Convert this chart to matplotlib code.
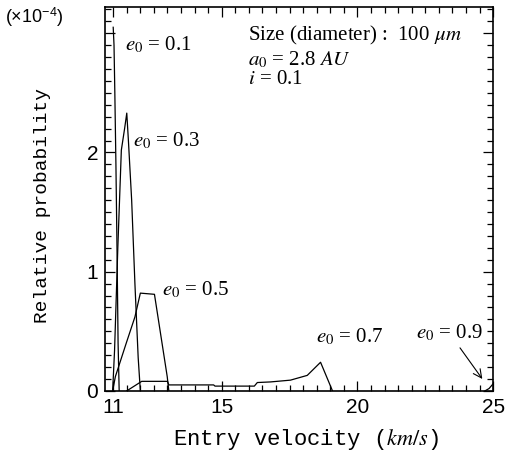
import matplotlib
matplotlib.use('Agg')
import matplotlib.pyplot as plt
from matplotlib.ticker import FixedLocator, MultipleLocator

# Relative probability (x1e-4) vs entry velocity (km/s)
V_E01 = [11.0, 11.03, 11.06, 11.1, 11.14, 11.18, 11.22]
P_E01 = [3.05, 2.9, 2.5, 1.9, 1.2, 0.4, 0.0]

V_E03 = [10.98, 11.05, 11.17, 11.3, 11.42, 11.5, 11.56, 11.68, 11.8, 11.92, 12.0]
P_E03 = [0.0, 0.34, 1.2, 2.02, 2.2, 2.33, 2.1, 1.6, 0.9, 0.28, 0.0]

V_E05 = [10.98, 11.08, 11.48, 11.8, 12.0, 12.52, 12.99, 13.05]
P_E05 = [0.0, 0.12, 0.4, 0.62, 0.82, 0.81, 0.12, 0.0]

V_E07 = [11.5, 12.05, 13.0, 13.05, 14.7, 14.75, 16.2, 16.31, 16.79, 17.53,
         18.15, 18.64, 19.08]
P_E07 = [0.0, 0.08, 0.08, 0.05, 0.05, 0.04, 0.04, 0.07, 0.075, 0.09,
         0.13, 0.24, 0.0]

V_E09 = [24.7, 24.85, 25.0]
P_E09 = [0.0, 0.02, 0.06]

SERIES = [(V_E01, P_E01), (V_E03, P_E03), (V_E05, P_E05),
          (V_E07, P_E07), (V_E09, P_E09)]

X_MAJOR = [11, 15, 20, 25]
Y_MAJOR = [0, 1, 2]

plt.rcParams['mathtext.fontset'] = 'stix'

fig = plt.figure(figsize=(5.1, 4.67), dpi=100)
ax = fig.add_axes([0.206, 0.163, 0.761, 0.822])

for v, p in SERIES:
    ax.plot(v, p, color='black', lw=0.9)

ax.set_xlim(10.7, 25.0)
ax.set_ylim(0, 3.22)

ax.xaxis.set_major_locator(FixedLocator(X_MAJOR))
ax.xaxis.set_minor_locator(MultipleLocator(0.5))
ax.yaxis.set_major_locator(FixedLocator(Y_MAJOR + [3]))
ax.yaxis.set_minor_locator(MultipleLocator(0.1))
ax.set_yticklabels(['0', '1', '2', ''])
ax.tick_params(which='both', direction='in', top=True, right=True,
               labelsize=15, width=0.9)
ax.tick_params(which='major', length=7, pad=5)
ax.tick_params(which='minor', length=4)
for lab in ax.get_xticklabels() + ax.get_yticklabels():
    lab.set_family('Liberation Sans')
for s in ax.spines.values():
    s.set_linewidth(1.2)

mono = 'Liberation Mono'
ax.set_xlabel('Entry velocity ($km/s$)', family=mono, fontsize=16)
ax.xaxis.set_label_coords(0.518, -0.093)
ax.set_ylabel('Relative probability', family=mono, fontsize=14)
ax.yaxis.set_label_coords(-0.139, 0.484)
fig.text(0.01, 0.962, r'(×10$^{\mathregular{-4}}$)', family='Liberation Sans',
         fontsize=13, ha='left', va='center')

serif = 'Liberation Serif'
tk = dict(family=serif, fontsize=15, ha='left', va='center')
ax.text(11.44, 2.90, r'$e_0$ = 0.1', **tk)
ax.text(11.73, 2.10, r'$e_0$ = 0.3', **tk)
ax.text(12.8, 0.85, r'$e_0$ = 0.5', **tk)
ax.text(18.49, 0.45, r'$e_0$ = 0.7', **tk)
ax.annotate(r'$e_0$ = 0.9', xy=(24.6, 0.1), xytext=(22.14, 0.49),
            arrowprops=dict(arrowstyle='->', color='black', lw=0.8,
                            shrinkA=2, shrinkB=0),
            **tk)

ax.text(15.98, 2.98, r'Size (diameter) :  100 $\mu m$', **tk)
ax.text(15.98, 2.78, r'$a_0$ = 2.8 $AU$', **tk)
ax.text(15.98, 2.61, r'$i$ = 0.1', **tk)

fig.savefig('out.png', dpi=100)
